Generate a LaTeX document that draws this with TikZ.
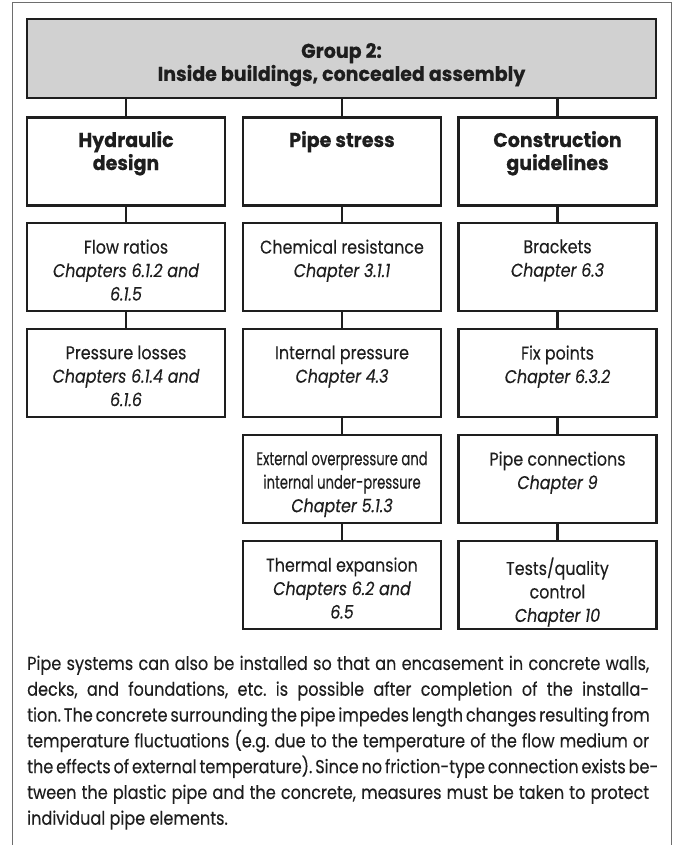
\documentclass[tikz,border=0pt]{standalone}
\usepackage{fontspec}
\setmainfont{Poppins}[FakeStretch=0.86, FakeBold=0.25]
\newfontfamily\heavyfont{Poppins}[FakeStretch=0.95, FakeBold=0.4]
\definecolor{ink}{HTML}{1E1E1E}
\definecolor{hdrfill}{HTML}{D1D1D1}
\definecolor{framegray}{HTML}{6E6E6E}
% top-aligned text block inside a fixed-size box
\newcommand\boxtxt[1]{\parbox[c][55pt][t]{194pt}{\centering #1}}
% same, starting a little higher, for the column titles
\newcommand\titletxt[1]{\parbox[c][61pt][t]{194pt}{\centering #1}}
% one condensed line of text
\newcommand\narrowline[1]{\scalebox{0.83}[1]{#1}}
% one justified line of the paragraph
\newcommand\jline[1]{\hbox to \hsize{#1}}
\tikzset{
  framebox/.style={draw=ink, line width=2.4pt, inner sep=0pt, text=ink},
  headbox/.style={framebox, fill=hdrfill, minimum width=629pt, minimum height=79pt,
    font=\fontsize{20}{23}\heavyfont\bfseries},
  titlebox/.style={framebox, minimum width=198pt, minimum height=88pt,
    font=\fontsize{20}{23}\heavyfont\bfseries},
  topicbox/.style={framebox, minimum width=198pt, minimum height=88pt,
    font=\fontsize{18.5}{23.5}\selectfont},
  link/.style={draw=ink, line width=2.2pt},
  outline/.style={draw=framegray, line width=1pt},
  para/.style={inner sep=0pt, text=ink, anchor=north west,
    font=\fontsize{18.7}{25.8}\selectfont\frenchspacing},
}
\begin{document}
\begin{tikzpicture}[x=1pt,y=-1pt]
\useasboundingbox (0,0) rectangle (675,845);

% open outer frame
\draw[outline] (12,845) -- (12,3) -- (671,3) -- (671,845);

% header
\node[headbox] (hdr) at (341.5,58.5)
  {\parbox[c][31pt][t]{600pt}{\centering Group 2:\\Inside buildings, concealed assembly}};

% column titles
\node[titlebox] (hyd) at (126,161.5) {\titletxt{Hydraulic\\design}};
\node[titlebox] (pst) at (342,161.5) {\titletxt{Pipe stress}};
\node[titlebox] (cgl) at (557.5,161.5) {\titletxt{Construction\\guidelines}};

% hydraulic design column
\node[topicbox] (flow) at (126,267) {\boxtxt{Flow ratios\\\textit{Chapters 6.1.2 and\\6.1.5}}};
\node[topicbox] (loss) at (126,373) {\boxtxt{Pressure losses\\\textit{Chapters 6.1.4 and\\6.1.6}}};

% pipe stress column
\node[topicbox] (chem) at (342,267) {\boxtxt{Chemical resistance\\\textit{Chapter 3.1.1}}};
\node[topicbox] (ipr) at (342,373) {\boxtxt{Internal pressure\\\textit{Chapter 4.3}}};
\node[topicbox] (ext) at (342,479) {\boxtxt{\narrowline{External overpressure and}\\\narrowline{internal under-pressure}\\\textit{Chapter 5.1.3}}};
\node[topicbox] (therm) at (342,585) {\boxtxt{Thermal expansion\\\textit{Chapters 6.2 and\\6.5}}};

% construction guidelines column
\node[topicbox] (brk) at (557.5,267) {\boxtxt{Brackets\\\textit{Chapter 6.3}}};
\node[topicbox] (fix) at (557.5,373) {\boxtxt{Fix points\\\textit{Chapter 6.3.2}}};
\node[topicbox] (conn) at (557.5,479) {\boxtxt{Pipe connections\\\textit{Chapter 9}}};
\node[topicbox] (test) at (557.5,585) {\boxtxt{Tests/quality\\control\\\textit{Chapter 10}}};

% connectors
\draw[link] (hdr.south -| hyd.north) -- (hyd.north);
\draw[link] (hdr.south -| pst.north) -- (pst.north);
\draw[link] (hdr.south -| cgl.north) -- (cgl.north);
\draw[link] (hyd) -- (flow);
\draw[link] (flow) -- (loss);
\draw[link] (pst) -- (chem);
\draw[link] (chem) -- (ipr);
\draw[link] (ipr) -- (ext);
\draw[link] (ext) -- (therm);
\draw[link] (cgl) -- (brk);
\draw[link] (brk) -- (fix);
\draw[link] (fix) -- (conn);
\draw[link] (conn) -- (test);

% explanatory paragraph
\node[para] (txt) at (27,655.5) {\vbox{\hsize=622pt
\jline{Pipe systems can also be installed so that an encasement in concrete walls,}
\jline{decks, and foundations, etc. is possible after completion of the installa-}
\jline{tion. The concrete surrounding the pipe impedes length changes resulting from}
\jline{temperature fluctuations (e.g. due to the temperature of the flow medium or}
\jline{the effects of external temperature). Since no friction-type connection exists be-}
\jline{tween the plastic pipe and the concrete, measures must be taken to protect}
\hbox{individual pipe elements.}}};
\end{tikzpicture}
\end{document}
